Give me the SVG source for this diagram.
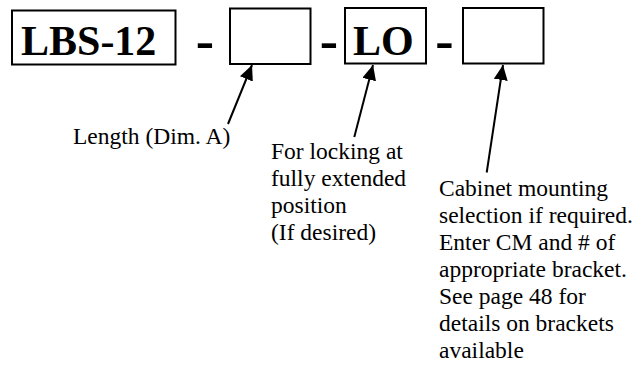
<svg xmlns="http://www.w3.org/2000/svg" width="641" height="367" viewBox="0 0 641 367">
<defs>
<style>
.box{fill:#fff;stroke:#000;stroke-width:2}
.big{font-family:'Liberation Serif',Tinos,'Times New Roman','DejaVu Serif',serif;font-weight:bold;font-size:42px;fill:#000}
.dash{font-family:'Liberation Serif',Tinos,'Times New Roman','DejaVu Serif',serif;font-weight:bold;font-size:55px;fill:#000;text-anchor:middle}
.lbl{font-family:'Liberation Serif',Tinos,'Times New Roman','DejaVu Serif',serif;font-size:23.5px;fill:#000}
.conn{stroke:#000;stroke-width:2;fill:none;marker-end:url(#ah)}
</style>
<marker id="ah" markerUnits="userSpaceOnUse" markerWidth="16" markerHeight="14" refX="15" refY="7" orient="auto">
<path d="M0,0 L15,7 L0,14 Z" fill="#000"/>
</marker>
</defs>
<rect width="641" height="367" fill="#fff"/>
<g id="node-lbs12">
<rect class="box" x="12" y="10.5" width="163.5" height="54"/>
<text class="big" x="21" y="55" font-family="Liberation Serif, serif">LBS-12</text>
</g>
<g id="dash1"><text class="dash" x="205" y="59">-</text></g>
<g id="node-length">
<rect class="box" x="230" y="8.5" width="80.5" height="55.5"/>
</g>
<g id="dash2"><text class="dash" x="329" y="59">-</text></g>
<g id="node-lo">
<rect class="box" x="345" y="8" width="81" height="55.5"/>
<text class="big" x="353" y="55">LO</text>
</g>
<g id="dash3"><text class="dash" x="444.5" y="59">-</text></g>
<g id="node-cm">
<rect class="box" x="463" y="8" width="80.5" height="55.5"/>
</g>
<g id="connectors">
<line class="conn" x1="228" y1="124" x2="252" y2="65"/>
<line class="conn" x1="354.3" y1="137" x2="373" y2="65"/>
<line class="conn" x1="486.7" y1="172.5" x2="503" y2="65"/>
</g>
<g id="label-length">
<text class="lbl" x="73" y="144">Length (Dim. A)</text>
</g>
<g id="label-lo">
<text class="lbl" x="271" y="159">For locking at</text>
<text class="lbl" x="271" y="186">fully extended</text>
<text class="lbl" x="271" y="213">position</text>
<text class="lbl" x="271" y="240">(If desired)</text>
</g>
<g id="label-cm">
<text class="lbl" x="439" y="196">Cabinet mounting</text>
<text class="lbl" x="439" y="223">selection if required.</text>
<text class="lbl" x="439" y="250">Enter CM and # of</text>
<text class="lbl" x="439" y="277">appropriate bracket.</text>
<text class="lbl" x="439" y="304">See page 48 for</text>
<text class="lbl" x="439" y="331">details on brackets</text>
<text class="lbl" x="439" y="358">available</text>
</g>
</svg>
